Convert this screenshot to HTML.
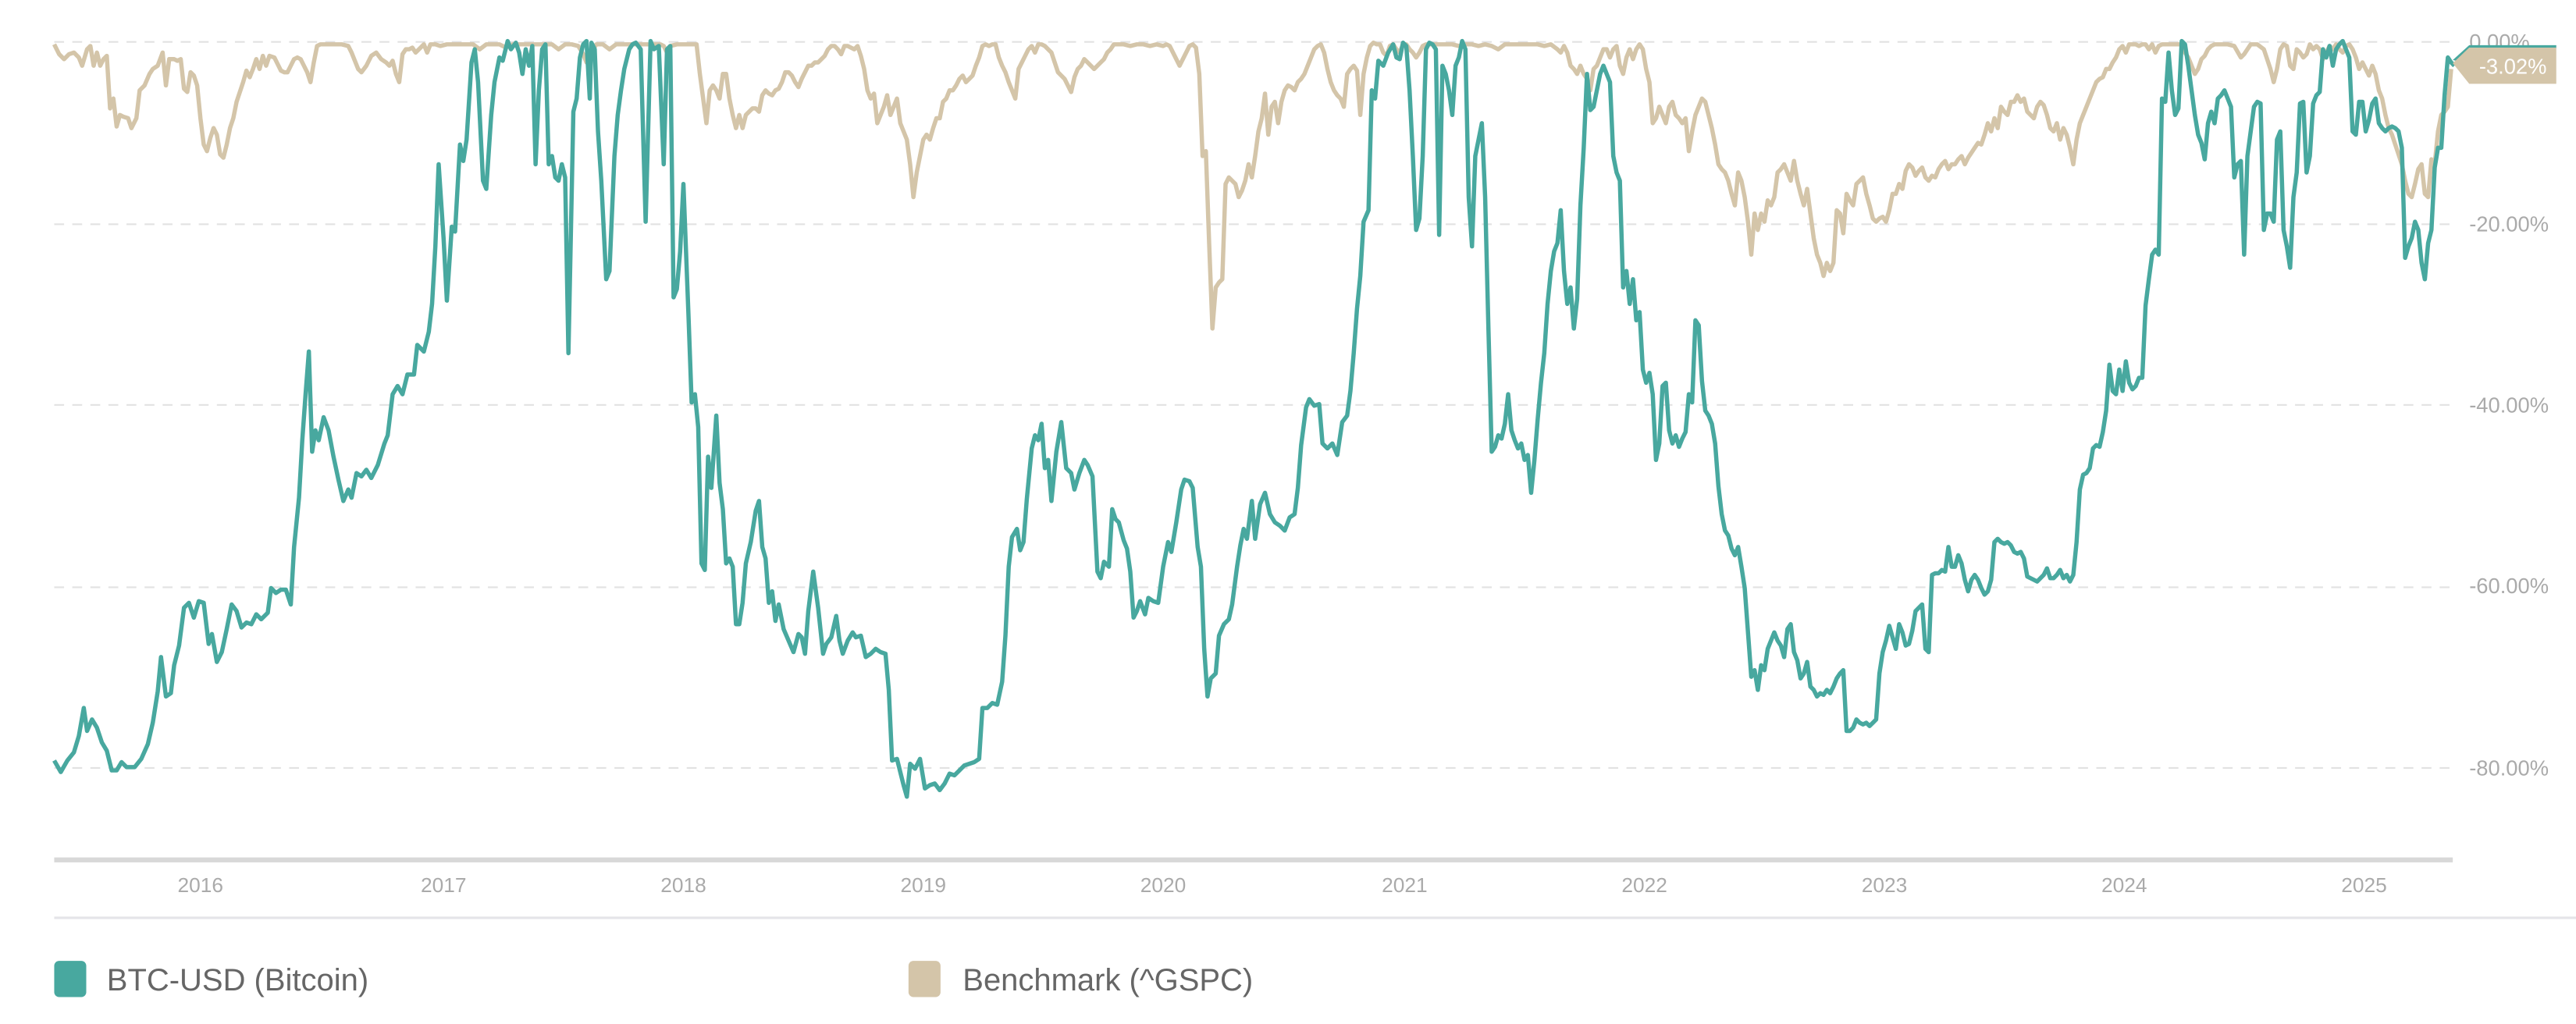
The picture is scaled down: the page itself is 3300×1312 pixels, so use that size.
<!DOCTYPE html>
<html><head><meta charset="utf-8"><style>
html,body{margin:0;padding:0;background:#fff;width:3300px;height:1312px;overflow:hidden}
svg{display:block}
text{font-family:"Liberation Sans",sans-serif}
</style></head><body>
<svg width="3300" height="1312" viewBox="0 0 1568 623.4" xmlns="http://www.w3.org/2000/svg">
<g stroke="#e2e2e2" stroke-width="1" stroke-dasharray="6,5">
<line x1="33" y1="25.5" x2="1493" y2="25.5"/>
<line x1="33" y1="136.5" x2="1493" y2="136.5"/>
<line x1="33" y1="246.5" x2="1493" y2="246.5"/>
<line x1="33" y1="357.5" x2="1493" y2="357.5"/>
<line x1="33" y1="467.5" x2="1493" y2="467.5"/>
</g>
<g fill="#aaa" font-size="13">
<text x="1503" y="30">0.00%</text>
<text x="1503" y="141">-20.00%</text>
<text x="1503" y="251">-40.00%</text>
<text x="1503" y="361">-60.00%</text>
<text x="1503" y="472">-80.00%</text>
</g>
<rect x="33" y="522" width="1460" height="3" fill="#d8d8d8"/>
<rect x="33" y="558" width="1535" height="1.5" fill="#e4e4e8"/>
<g fill="#aaa" font-size="12.5" text-anchor="middle">
<text x="122" y="543">2016</text><text x="270" y="543">2017</text><text x="416" y="543">2018</text><text x="562" y="543">2019</text><text x="708" y="543">2020</text><text x="855" y="543">2021</text><text x="1001" y="543">2022</text><text x="1147" y="543">2023</text><text x="1293" y="543">2024</text><text x="1439" y="543">2025</text>
</g>
<polyline fill="none" stroke="#d4c5a9" stroke-width="2.6" stroke-linejoin="round" points="33,27 36,33 39,36 42,33 45,32 48,35 50,40 53,30 55,28 57,40 59,32 61,40 63,36 65,34 67,66 69,60 71,77 73,70 75,71 78,72 80,78 83,72 85,55 88,52 91,45 93,42 96,40 99,32 101,52 103,36 106,36 108,37 110,36 112,54 114,56 116,44 118,46 120,52 122,72 124,88 126,92 128,84 130,78 132,82 134,94 136,96 138,88 140,78 142,72 144,62 146,56 148,50 150,43 152,47 154,42 156,36 158,42 160,34 162,40 164,34 167,35 169,39 171,43 173,44 175,44 177,40 179,36 181,35 183,36 185,40 187,44 189,50 191,38 193,28 195,27 197,27 200,27 204,27 208,27 212,28 214,32 216,37 218,42 220,44 223,40 226,34 229,32 232,36 235,38 237,40 239,37 241,45 243,50 245,33 247,30 249,30 251,29 253,32 255,30 258,27 260,32 262,27 265,27 268,28 272,27 276,27 280,27 284,27 288,27 292,30 296,27 300,27 304,27 308,29 312,27 316,27 320,27 324,27 328,27 332,27 336,27 340,30 344,27 348,27 352,28 355,33 357,38 359,34 361,30 363,27 367,27 371,30 375,27 379,27 383,27 387,27 391,27 394,27 398,27 402,27 404,28 406,32 408,28 412,27 416,27 420,27 424,27 426,45 428,60 430,75 432,55 434,52 436,55 438,60 440,45 442,45 444,60 446,70 448,78 450,70 452,78 454,70 456,68 458,66 460,66 462,68 464,58 466,55 468,57 470,58 472,55 474,54 476,50 478,44 480,44 482,46 484,50 486,53 488,48 490,44 492,40 494,40 496,38 498,38 500,36 502,34 504,30 506,28 508,28 510,30 512,33 514,28 516,28 518,29 520,30 522,28 524,34 526,42 528,55 530,60 532,57 534,75 536,70 538,65 540,58 542,70 544,65 546,60 548,75 550,80 552,85 554,100 556,120 558,105 560,95 562,85 564,82 566,85 568,78 570,72 572,72 574,62 576,60 578,55 580,55 582,52 584,48 586,46 588,50 590,48 592,46 594,40 596,35 598,28 600,27 602,28 604,27 606,27 608,35 610,40 612,44 614,50 616,55 618,60 620,42 622,38 624,34 626,30 628,28 630,32 632,27 634,27 636,28 638,30 640,32 642,38 644,44 646,46 648,48 650,52 652,56 654,47 656,42 658,40 660,36 662,38 664,40 666,42 668,40 670,38 672,36 674,32 676,30 678,27 680,27 684,27 688,28 692,27 696,27 700,28 704,27 708,28 710,27 712,28 714,32 716,36 718,40 720,36 722,32 724,28 726,27 728,29 730,45 732,95 734,92 736,148 738,200 740,175 742,172 744,170 746,112 748,108 750,110 752,112 754,120 756,116 758,110 760,100 762,108 764,95 766,80 768,72 770,57 772,82 774,65 776,62 778,75 780,62 782,55 784,52 786,53 788,55 790,50 792,48 794,45 796,40 798,35 800,30 802,28 804,27 806,32 808,42 810,50 812,55 814,58 816,60 818,65 820,45 822,42 824,40 826,43 828,70 830,45 832,35 834,28 836,26 838,27 840,27 842,32 844,34 846,28 848,27 850,30 852,32 854,27 856,27 858,30 860,32 862,35 864,32 866,28 868,27 872,27 876,27 880,27 884,27 888,28 892,27 896,27 900,28 904,27 908,28 912,30 916,27 920,27 924,27 928,27 932,27 936,27 940,28 944,27 948,30 950,32 952,28 954,32 956,40 958,42 960,45 962,40 964,45 966,48 968,55 970,42 972,40 974,35 976,30 978,30 980,35 982,30 984,28 986,40 988,45 990,35 992,30 994,36 996,30 998,27 1000,30 1002,42 1004,50 1006,75 1008,72 1010,65 1012,70 1014,75 1016,65 1018,62 1020,70 1022,72 1024,75 1026,72 1028,92 1030,80 1032,70 1034,65 1036,60 1038,62 1040,70 1042,78 1044,88 1046,100 1048,103 1050,105 1052,110 1054,118 1056,125 1058,105 1060,110 1062,120 1064,135 1066,155 1068,130 1070,140 1072,130 1074,135 1076,122 1078,125 1080,120 1082,105 1084,103 1086,100 1088,105 1090,110 1092,98 1094,110 1096,118 1098,125 1100,115 1102,130 1104,145 1106,155 1108,160 1110,168 1112,160 1114,165 1116,160 1118,128 1120,130 1122,142 1124,118 1126,122 1128,125 1130,112 1132,110 1134,108 1136,118 1138,125 1140,133 1142,135 1144,133 1146,132 1148,135 1150,128 1152,118 1154,118 1156,112 1158,115 1160,104 1162,100 1164,102 1166,107 1168,104 1170,102 1172,108 1174,110 1176,107 1178,108 1180,103 1182,100 1184,98 1186,103 1188,100 1190,100 1192,97 1194,95 1196,100 1198,96 1200,93 1202,90 1204,87 1206,88 1208,82 1210,75 1212,80 1214,72 1216,78 1218,65 1220,68 1222,70 1224,62 1226,62 1228,58 1230,62 1232,60 1234,68 1236,70 1238,72 1240,65 1242,62 1244,64 1246,70 1248,78 1250,80 1252,75 1254,85 1256,78 1258,82 1260,90 1262,100 1264,85 1266,75 1268,70 1270,65 1272,60 1274,55 1276,50 1278,48 1280,47 1282,42 1284,42 1286,38 1288,35 1290,30 1292,28 1294,32 1296,27 1298,27 1300,27 1302,28 1304,27 1306,27 1308,30 1310,27 1312,32 1314,28 1316,27 1320,27 1324,27 1328,27 1330,32 1332,35 1334,40 1336,45 1338,42 1340,36 1342,34 1344,30 1346,28 1348,27 1352,27 1356,27 1360,28 1364,35 1366,33 1368,30 1370,27 1374,27 1378,30 1380,36 1382,42 1384,50 1386,42 1388,30 1390,27 1392,28 1394,40 1396,42 1398,30 1400,32 1402,35 1404,33 1406,27 1408,30 1410,28 1412,30 1414,36 1416,32 1418,28 1420,30 1422,27 1424,30 1426,32 1428,28 1430,27 1432,30 1434,35 1436,42 1438,38 1440,42 1442,46 1444,40 1446,45 1448,55 1450,60 1452,70 1454,78 1456,82 1458,88 1460,94 1462,100 1464,110 1466,118 1468,120 1470,112 1472,103 1474,100 1476,118 1478,120 1480,97 1482,100 1484,80 1486,70 1488,68 1490,65 1492,42"/>
<polyline fill="none" stroke="#48a89f" stroke-width="2.6" stroke-linejoin="round" points="33,463 37,470 41,463 45,458 48,448 51,431 53,445 56,438 59,443 62,452 65,457 68,469 71,469 74,464 77,467 82,467 86,462 90,453 93,440 96,421 98,400 101,424 104,422 106,405 109,393 112,370 115,367 118,376 121,366 124,367 127,392 129,386 132,403 135,397 138,383 141,368 144,372 147,382 150,379 153,380 156,374 159,377 163,373 165,358 168,361 171,359 174,359 177,368 179,333 182,303 184,268 186,240 188,214 190,275 192,262 194,268 197,254 200,262 203,278 206,292 209,305 212,298 214,303 217,288 220,290 223,286 226,291 230,283 234,270 236,265 239,240 242,235 245,240 248,228 252,228 254,210 258,214 261,202 263,185 265,150 267,100 270,145 272,183 275,138 277,141 280,88 282,98 284,85 287,38 289,30 291,50 294,110 296,115 299,70 301,50 304,35 306,37 309,25 311,30 314,26 316,32 318,45 320,30 322,40 324,28 326,100 328,55 330,30 332,27 334,100 336,95 338,108 340,110 342,100 344,108 346,215 349,68 351,60 353,35 355,27 357,25 359,60 360,26 362,30 364,80 366,110 369,170 371,165 374,95 376,70 378,55 380,42 383,30 385,27 387,26 390,30 393,135 396,25 398,30 401,28 404,100 406,30 408,28 410,181 412,176 414,153 416,112 419,190 421,245 423,240 425,260 427,343 429,347 431,278 433,297 436,253 438,294 440,310 442,343 444,340 446,345 448,380 450,380 452,367 454,343 457,330 460,311 462,305 464,333 466,340 468,367 470,360 472,378 474,368 477,383 480,390 483,397 486,386 488,388 490,398 492,372 495,348 498,370 501,398 503,392 506,388 509,375 511,390 513,398 516,390 519,385 521,388 524,387 527,400 530,398 533,395 536,397 539,398 541,420 543,463 546,462 548,470 550,478 552,485 554,465 557,468 560,462 563,480 566,478 569,477 572,481 575,477 578,471 581,472 584,469 587,466 590,465 593,464 596,462 598,431 601,431 604,428 607,429 610,415 612,387 614,345 616,327 619,322 621,335 623,330 625,304 628,273 630,265 632,268 634,258 636,285 638,280 640,305 643,275 646,257 649,285 652,288 654,298 657,288 660,280 662,283 665,290 668,348 670,352 672,342 675,345 677,310 679,316 681,318 684,329 686,334 688,348 690,376 692,372 694,366 697,374 699,364 702,366 705,367 708,345 711,330 713,336 716,318 719,298 721,292 724,293 726,297 729,333 731,345 733,395 735,424 737,413 740,410 742,387 745,380 748,377 750,368 753,345 755,332 757,322 759,328 762,305 764,328 767,307 770,300 773,313 776,318 779,320 782,323 785,315 788,313 790,297 792,271 795,248 797,243 800,247 803,246 805,270 808,273 811,270 814,277 817,257 820,253 822,238 824,215 826,188 828,168 830,135 833,128 835,55 837,60 839,37 842,40 845,32 848,27 850,35 852,36 854,26 856,28 858,55 860,95 862,140 864,133 866,95 868,30 870,26 872,27 874,30 876,143 878,40 880,45 882,55 884,70 886,40 888,35 890,25 892,30 894,120 896,150 898,95 900,85 902,75 904,120 906,200 908,275 910,272 912,265 914,267 916,258 918,240 920,262 922,268 924,273 926,270 928,280 930,277 932,300 934,280 936,255 938,233 940,215 942,185 944,165 946,153 948,148 950,128 952,165 954,185 956,175 958,200 960,182 962,125 964,90 966,45 968,67 970,65 972,55 974,45 976,40 978,45 980,50 982,95 984,105 986,110 988,175 990,165 992,185 994,170 996,195 998,190 1000,225 1002,233 1004,227 1006,240 1008,280 1010,270 1012,235 1014,233 1016,262 1018,270 1020,265 1022,272 1024,267 1026,263 1028,240 1030,245 1032,195 1034,198 1036,232 1038,250 1040,253 1042,258 1044,270 1046,296 1048,313 1050,323 1052,326 1054,334 1056,338 1058,333 1060,345 1062,358 1064,385 1066,412 1068,408 1070,420 1072,405 1074,408 1076,395 1078,390 1080,385 1082,390 1084,393 1086,400 1088,383 1090,380 1092,397 1094,402 1096,413 1098,410 1100,403 1102,418 1104,420 1106,424 1108,422 1110,423 1112,420 1114,422 1116,418 1118,413 1120,410 1122,408 1124,445 1126,445 1128,443 1130,438 1132,440 1134,441 1136,440 1138,442 1140,440 1142,438 1144,410 1146,397 1148,390 1150,381 1152,388 1154,395 1156,380 1158,385 1160,393 1162,392 1164,384 1166,372 1168,370 1170,368 1172,395 1174,397 1176,350 1178,349 1180,349 1182,347 1184,348 1186,333 1188,345 1190,345 1192,338 1194,343 1196,353 1198,360 1200,353 1202,350 1204,353 1206,358 1208,362 1210,360 1212,353 1214,330 1216,328 1218,330 1220,331 1222,330 1224,332 1226,336 1228,337 1230,336 1232,340 1234,351 1236,352 1238,353 1240,354 1242,352 1244,350 1246,346 1248,352 1250,352 1252,350 1254,347 1256,352 1258,350 1260,354 1262,350 1264,330 1266,298 1268,289 1270,288 1272,285 1274,273 1276,271 1278,272 1280,263 1282,250 1284,222 1286,238 1288,240 1290,225 1292,238 1294,220 1296,233 1298,237 1300,235 1302,230 1304,230 1306,186 1308,170 1310,155 1312,152 1314,155 1316,60 1318,62 1320,32 1322,55 1324,70 1326,66 1328,25 1330,27 1332,40 1334,55 1336,70 1338,82 1340,87 1342,97 1344,75 1346,68 1348,75 1350,60 1352,58 1354,55 1356,60 1358,65 1360,108 1362,100 1364,98 1366,155 1368,95 1370,80 1372,65 1374,62 1376,63 1378,140 1380,130 1382,130 1384,135 1386,85 1388,80 1390,140 1392,150 1394,163 1396,120 1398,105 1400,63 1402,62 1404,105 1406,95 1408,63 1410,58 1412,56 1414,30 1416,35 1418,28 1420,40 1422,30 1424,27 1426,25 1428,30 1430,35 1432,80 1434,82 1436,62 1438,62 1440,80 1442,73 1444,63 1446,60 1448,75 1450,78 1452,80 1454,78 1456,77 1458,78 1460,80 1462,90 1464,157 1466,150 1468,145 1470,135 1472,140 1474,160 1476,170 1478,148 1480,140 1482,102 1484,90 1486,90 1488,58 1490,35 1492,38 1494,40"/>
<polygon points="1503,27.5 1556,27.5 1556,29.5 1503,29.5 1495,37 1493,36.5" fill="#48a89f"/>
<polygon points="1493,38.5 1503,29 1556,29 1556,51 1503,51" fill="#d4c5a9"/>
<text x="1509" y="45" font-size="13" fill="#fff">-3.02%</text>
<rect x="33" y="585" width="19.5" height="22" rx="3" fill="#48a89f"/>
<text x="65" y="603" font-size="19" fill="#666">BTC-USD (Bitcoin)</text>
<rect x="553" y="585" width="19.5" height="22" rx="3" fill="#d4c5a9"/>
<text x="586" y="603" font-size="19" fill="#666">Benchmark (^GSPC)</text>
</svg>
</body></html>
